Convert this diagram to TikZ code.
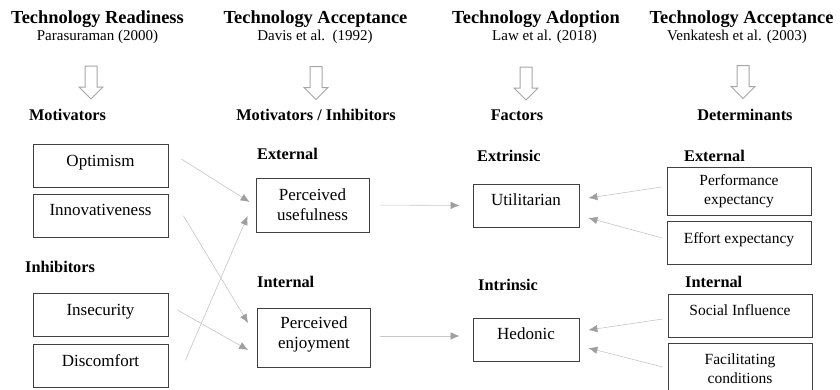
\documentclass[tikz,border=0pt]{standalone}
\usepackage{fontspec}
\setmainfont{Liberation Serif}
\usetikzlibrary{arrows.meta, positioning, shapes.arrows}
\tikzset{%
	title/.style={font=\fontsize{18.4}{20}\selectfont\bfseries, inner sep=0pt},
	cite/.style={font=\fontsize{15}{17}\selectfont, inner sep=0pt},
	head/.style={font=\fontsize{16.3}{18}\selectfont\bfseries, inner sep=0pt},
	flow/.style={single arrow, draw=gray!70, line width=1pt, rotate=-90,%
		minimum height=33pt, text height=5.5pt, text depth=5.5pt, single arrow head extend=6pt,%
		single arrow head indent=0pt, inner sep=0pt},
	box/.style={draw=black!75, line width=0.8pt, rectangle, minimum width=135pt,%
		minimum height=43pt, align=center, inner sep=2pt, font=\fontsize{17}{20}\selectfont},
	lift/.style={text depth=11pt},
	factor/.style={box, lift},
	construct/.style={box, minimum width=113pt, minimum height=54pt},
	motive/.style={box, lift, minimum width=106pt},
	determ/.style={box, minimum width=144pt, font=\fontsize{15.5}{19}\selectfont},
	link/.style={draw=gray!45, line width=0.6pt, -{Latex[length=9pt, width=7.5pt, color=gray!75]}}
}

\begin{document}
\begin{tikzpicture}[x=1pt, y=-1pt]
			\useasboundingbox (0,0) rectangle (840,389);

			\node[title] (t-tr) at (97.5,19) {Technology Readiness};
			\node[cite]  (c-tr) at (97.5,37) {Parasuraman (2000)};
			\node[title] (t-ta) at (315.5,19) {Technology Acceptance};
			\node[cite]  (c-ta) at (315,37) {Davis et al.\ \ (1992)};
			\node[title] (t-ad) at (536,19) {Technology Adoption};
			\node[cite]  (c-ad) at (544.5,37) {Law et al. (2018)};
			\node[title] (t-ut) at (741.5,19) {Technology Acceptance};
			\node[cite]  (c-ut) at (737,37) {Venkatesh et al. (2003)};

			\node[flow] (f-tr) at (91,79.5) {};
			\node[flow] (f-ta) at (316,80) {};
			\node[flow] (f-ad) at (526,80.5) {};
			\node[flow] (f-ut) at (743,79) {};

			\node[head] (h-tr) at (67.5,115) {Motivators};
			\node[head] (h-ta) at (316,115) {Motivators / Inhibitors};
			\node[head] (h-ad) at (517,115) {Factors};
			\node[head] (h-ut) at (745,115) {Determinants};

			\node[factor] (opt) at (100.5,166) {Optimism};
			\node[factor] (inn) [below=6pt of opt] {Innovativeness};
			\node[head, anchor=west] (inh) at (25,267) {Inhibitors};
			\node[factor] (ins) at (100.5,315) {Insecurity};
			\node[factor] (disc) [below=7pt of ins] {Discomfort};

			\node[head, anchor=west] (ext) at (257,154) {External};
			\node[construct] (pu) at (312.5,205) {Perceived\\usefulness};
			\node[head, anchor=west] (int) at (257,282) {Internal};
			\node[construct, minimum height=59pt, text depth=9pt] (pe) at (314,337.5) {Perceived\\enjoyment};

			\node[head, anchor=west] (extr) at (477,156) {Extrinsic};
			\node[motive] (util) at (526,205.5) {Utilitarian};
			\node[head, anchor=west] (intr) at (478,285) {Intrinsic};
			\node[motive] (hed) at (526,339.5) {Hedonic};

			\node[head, anchor=west] (ext-u) at (684,156) {External};
			\node[determ, minimum height=48pt] (perf) at (739,191) {Performance\\expectancy};
			\node[determ, lift] (eff) [below=6pt of perf] {Effort expectancy};
			\node[head, anchor=west] (int-u) at (685,282) {Internal};
			\node[determ, lift] (soc) at (740,315.5) {Social Influence};
			\node[determ, minimum height=52pt] (fac) at (740,369) {Facilitating\\conditions};

			\draw [link] ([xshift=13pt, yshift=7pt]opt.east) to ([xshift=-6pt, yshift=3pt]pu.west);
			\draw [link] ([xshift=17pt, yshift=5.5pt]disc.east) to ([xshift=-8pt, yshift=-11pt]pu.west);
			\draw [link] ([xshift=15pt]inn.east) to ([xshift=-9pt, yshift=14.5pt]pe.west);
			\draw [link] ([xshift=9pt, yshift=5pt]ins.east) to ([xshift=-9pt, yshift=-12.5pt]pe.west);
			\draw [link, shorten <=11pt, shorten >=13pt] (pu.east) to (util.west);
			\draw [link] ([xshift=9pt, yshift=1.5pt]pe.east) to ([xshift=-13pt, yshift=3.5pt]hed.west);
			\draw [link] ([xshift=-5pt, yshift=4pt]perf.west) to ([xshift=9pt, yshift=7.5pt]util.east);
			\draw [link] ([xshift=-5pt, yshift=5.5pt]eff.west) to ([xshift=9pt, yshift=-12.5pt]util.east);
			\draw [link] ([xshift=-5pt, yshift=-3.5pt]soc.west) to ([xshift=9pt, yshift=9.5pt]hed.east);
			\draw [link] ([xshift=-5pt, yshift=2pt]fac.west) to ([xshift=9pt, yshift=-8.5pt]hed.east);
		\end{tikzpicture}
\end{document}
